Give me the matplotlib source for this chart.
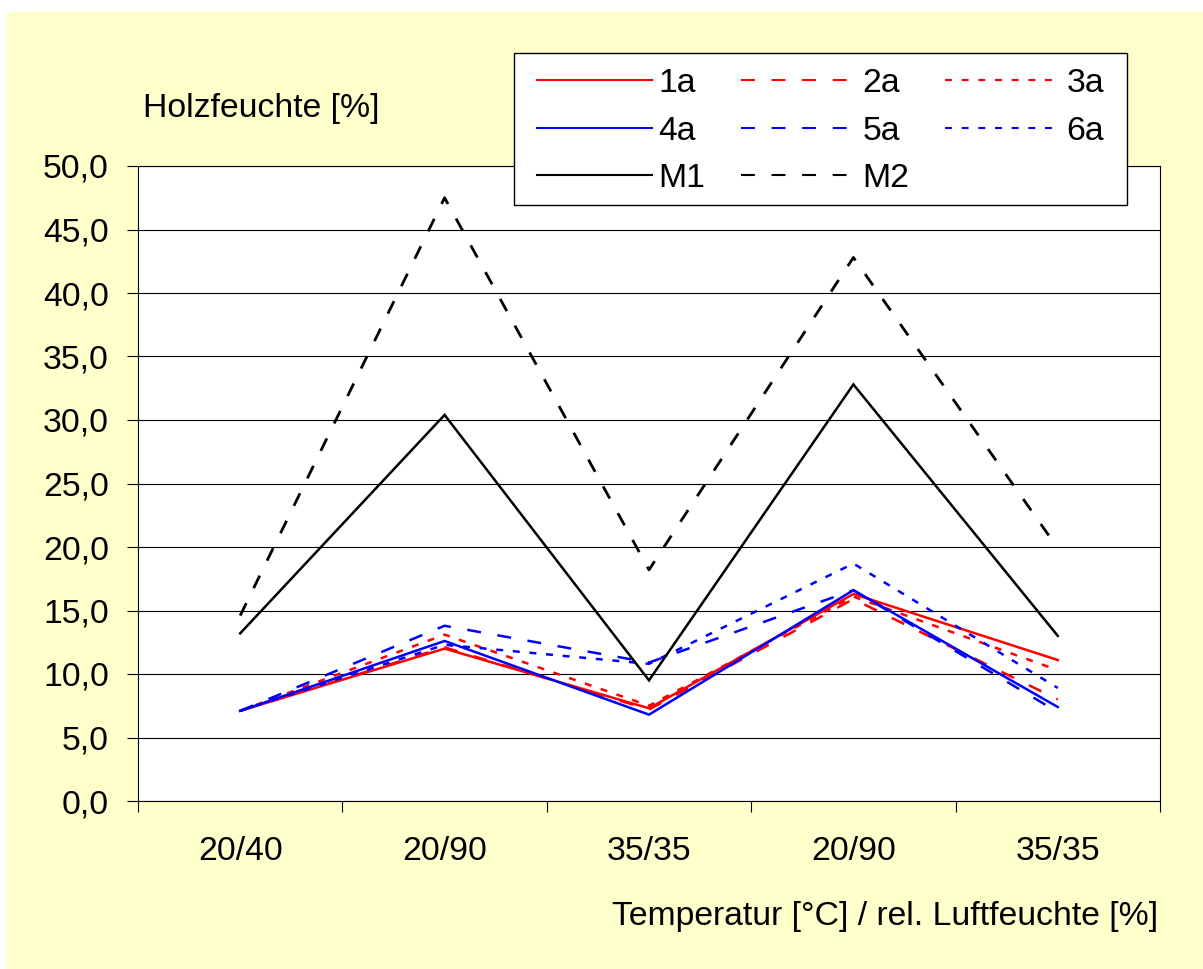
"""Holzfeuchte je Klimastufe - Nachbau des Excel-Diagramms."""

import matplotlib

matplotlib.use("Agg")
import matplotlib.pyplot as plt
from matplotlib.patches import Rectangle
from matplotlib.ticker import FuncFormatter
import numpy as np

plt.rcParams["font.family"] = ["Liberation Sans", "DejaVu Sans"]
plt.rcParams["lines.scale_dashes"] = False

categories = ["20/40", "20/90", "35/35", "20/90", "35/35"]

s_1a = [7.1, 12.0, 7.3, 16.3, 11.1]
s_2a = [7.1, 12.1, 7.2, 15.9, 8.0]
s_3a = [7.1, 13.1, 7.5, 16.1, 10.3]
s_4a = [7.1, 12.6, 6.8, 16.6, 7.4]
s_5a = [7.1, 13.8, 10.9, 16.6, 7.0]
s_6a = [7.1, 12.3, 10.8, 18.7, 8.9]
s_m1 = [13.2, 30.4, 9.5, 32.8, 13.0]
s_m2 = [14.6, 47.5, 18.2, 42.8, 19.9]

DASHED = (0, (10, 12))
DOTTED = (0, (5, 7))

series = [
    ("1a", s_1a, "#FF0000", "-", 1.8),
    ("2a", s_2a, "#FF0000", DASHED, 1.8),
    ("3a", s_3a, "#FF0000", DOTTED, 1.8),
    ("4a", s_4a, "#0000FF", "-", 1.8),
    ("5a", s_5a, "#0000FF", DASHED, 1.8),
    ("6a", s_6a, "#0000FF", DOTTED, 1.8),
    ("M1", s_m1, "#000000", "-", 1.8),
    ("M2", s_m2, "#000000", DASHED, 2.0),
]

FS = 24.3

W, H = 1203, 969
fig = plt.figure(figsize=(W / 100, H / 100), dpi=100)
fig.patch.set_facecolor("white")
fig.patches.append(
    Rectangle((7 / W, 0), 1, 1 - 12 / H, transform=fig.transFigure,
              facecolor="#FFFFCC", edgecolor="none", zorder=-10)
)

ax = fig.add_axes([138 / W, 1 - 801 / H, (1160 - 138) / W, (801 - 166) / H])
ax.set_facecolor("white")

x = np.arange(len(categories))
lines = {}
for name, vals, color, ls, lw in series:
    (ln,) = ax.plot(x, vals, color=color, linestyle=ls, linewidth=lw,
                    dash_capstyle="butt", solid_joinstyle="miter", label=name)
    lines[name] = ln

ax.set_xlim(-0.5, len(categories) - 0.5)
ax.set_ylim(0, 50)
ax.set_yticks(np.arange(0, 51, 5))
ax.yaxis.set_major_formatter(FuncFormatter(lambda v, _: f"{v:.1f}".replace(".", ",")))
ax.grid(axis="y", color="black", linewidth=0.8)
ax.set_axisbelow(True)

# category labels sit between the boundary ticks
ax.set_xticks(np.arange(-0.5, len(categories), 1.0))
ax.set_xticklabels([])
ax.set_xticks(x, minor=True)
ax.set_xticklabels(categories, minor=True)
ax.tick_params(axis="x", which="major", length=8, width=0.8, direction="out")
ax.tick_params(axis="x", which="minor", length=0, pad=25, labelsize=FS)
ax.tick_params(axis="y", length=8, width=0.8, direction="out", pad=13,
               labelsize=FS)

for side in ["left", "bottom", "right", "top"]:
    ax.spines[side].set_color("black")
    ax.spines[side].set_linewidth(0.8)

fig.text(143 / W, 1 - 108 / H, "Holzfeuchte [%]", fontsize=FS,
         ha="left", va="center")
fig.text(1158 / W, 1 - 917 / H, "Temperatur [°C] / rel. Luftfeuchte [%]",
         fontsize=FS, ha="right", va="center")

# legend frame drawn separately so the padding can differ per side
fig.patches.append(
    Rectangle((514 / W, 1 - 205 / H), (1127 - 514) / W, (205 - 53) / H,
              transform=fig.transFigure, facecolor="white",
              edgecolor="black", linewidth=1.0, zorder=5)
)
order = ["1a", "4a", "M1", "2a", "5a", "M2", "3a", "6a"]
leg = fig.legend(
    [lines[n] for n in order], order,
    loc="upper left", bbox_to_anchor=(527 / W, 1 - 58 / H),
    ncol=3, fontsize=FS, frameon=False,
    handlelength=3.4, handletextpad=0.2,
    columnspacing=1.05, labelspacing=0.49, borderpad=0.3, borderaxespad=0,
)
leg.set_zorder(6)
for h in leg.legend_handles:
    h.set_linewidth(1.5)

fig.savefig("out.png", dpi=100, facecolor=fig.get_facecolor())
